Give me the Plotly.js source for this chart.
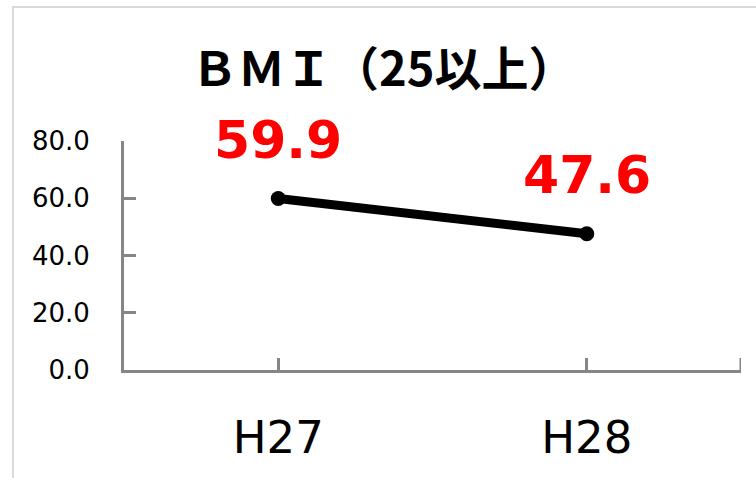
<!DOCTYPE html>
<html>
<head>
<meta charset="utf-8">
<script src="https://cdn.plot.ly/plotly-3.0.1.min.js"></script>
<style>
  html, body { margin: 0; padding: 0; background: #fff; }
  #wrap { position: relative; width: 756px; height: 478px; }
  #chart { width: 756px; height: 478px; }
  #frame { position: absolute; left: 12px; top: 6px; right: -4px; bottom: -4px;
           border-left: 2px solid #d9d9d9; border-top: 2px solid #d9d9d9; pointer-events: none; }
</style>
</head>
<body>
<div id="wrap">
  <div id="chart"></div>
  <div id="frame"></div>
</div>
<script>
const categories = ["H27", "H28"];
const values = [59.9, 47.6];
const yTicks = [0, 20, 40, 60, 80];
const titleText = "ＢＭＩ（25以上）";

const axisColor = "#868686";

const trace = {
  type: "scatter",
  mode: "lines+markers",
  x: categories,
  y: values,
  line: { color: "#000000", width: 9 },
  marker: { color: "#000000", size: 15 },
  hoverinfo: "skip",
  cliponaxis: false
};

const annotations = categories.map((c, i) => ({
  x: c, y: values[i], xref: "x", yref: "y",
  text: values[i].toFixed(1),
  showarrow: false,
  yanchor: "middle", xanchor: "center",
  yshift: 59,
  font: { family: "DejaVu Sans", size: 52, color: "#ff0000", weight: "bold" }
}));

const shapes = [
  { type: "line", xref: "x", yref: "paper", x0: 1.5, x1: 1.5, y0: 0, y1: 12 / 229,
    line: { color: axisColor, width: 3 } }
];

const layout = {
  width: 756, height: 478,
  margin: { l: 124, r: 15, t: 141, b: 108 },
  paper_bgcolor: "#ffffff", plot_bgcolor: "#ffffff",
  showlegend: false,
  title: {
    text: titleText,
    font: { family: "Noto Sans CJK JP", size: 47, color: "#000000", weight: "bold" },
    x: 0.507, xanchor: "center", y: 0.855, yanchor: "middle"
  },
  xaxis: {
    type: "category",
    range: [-0.5, 1.5],
    showgrid: false, zeroline: false,
    showline: true, linecolor: axisColor, linewidth: 3,
    ticks: "inside", ticklen: 12, tickwidth: 3, tickcolor: axisColor,
    tickfont: { family: "DejaVu Sans", size: 45, color: "#000000" },
    ticklabelstandoff: 26
  },
  yaxis: {
    range: [0, 80],
    tickvals: yTicks,
    tickformat: ".1f",
    showgrid: false, zeroline: false,
    showline: true, linecolor: axisColor, linewidth: 3,
    ticks: "inside", ticklen: 12, tickwidth: 3, tickcolor: axisColor,
    tickfont: { family: "DejaVu Sans", size: 26, color: "#000000" },
    ticklabelstandoff: 26
  },
  annotations: annotations,
  shapes: shapes
};

Plotly.newPlot("chart", [trace], layout, { displayModeBar: false, staticPlot: true });
</script>
</body>
</html>
